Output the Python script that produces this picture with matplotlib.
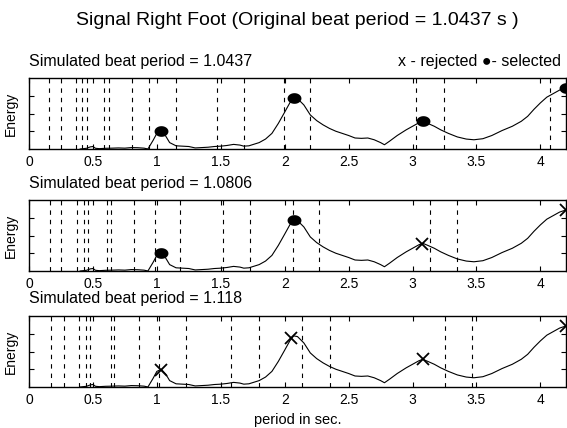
import matplotlib
matplotlib.use("Agg")
import matplotlib.pyplot as plt
from matplotlib.path import Path
import numpy as np

plt.rcParams["font.family"] = ["Liberation Sans", "DejaVu Sans"]

# energy curve (same signal in every panel)
period = [0.40, 0.45, 0.48, 0.50, 0.52, 0.55, 0.60, 0.65, 0.70, 0.75, 0.80, 0.85,
          0.90, 0.93, 0.97, 1.00, 1.035, 1.07, 1.10, 1.15, 1.20, 1.25, 1.30, 1.35,
          1.40, 1.45, 1.50, 1.55, 1.60, 1.65, 1.68, 1.72, 1.80, 1.85, 1.90, 1.95,
          2.00, 2.04, 2.07, 2.10, 2.15, 2.20, 2.25, 2.30, 2.35, 2.40, 2.45, 2.50,
          2.55, 2.60, 2.65, 2.70, 2.75, 2.78, 2.82, 2.88, 2.95, 3.00, 3.05, 3.08,
          3.12, 3.17, 3.22, 3.28, 3.35, 3.42, 3.48, 3.55, 3.62, 3.70, 3.78, 3.85,
          3.90, 3.95, 4.00, 4.05, 4.10, 4.15, 4.20]
energy = [0.00, 0.01, 0.03, 0.035, 0.01, 0.005, 0.01, 0.012, 0.015, 0.012, 0.02, 0.018,
          0.012, 0.0, 0.12, 0.22, 0.25, 0.18, 0.09, 0.045, 0.04, 0.035, 0.015, 0.02,
          0.025, 0.035, 0.04, 0.05, 0.065, 0.055, 0.04, 0.045, 0.09, 0.14, 0.22, 0.36,
          0.52, 0.65, 0.72, 0.71, 0.62, 0.48, 0.40, 0.34, 0.29, 0.25, 0.22, 0.19,
          0.155, 0.15, 0.155, 0.13, 0.09, 0.06, 0.11, 0.19, 0.27, 0.32, 0.37, 0.39,
          0.36, 0.32, 0.27, 0.22, 0.17, 0.14, 0.13, 0.145, 0.19, 0.26, 0.32, 0.39,
          0.46, 0.56, 0.65, 0.73, 0.78, 0.83, 0.86]

sim_periods = ["1.0437", "1.0806", "1.118"]

# dashed candidate lines per panel
dashes_1 = [0.159, 0.248, 0.366, 0.413, 0.452, 0.588, 0.622, 0.805, 0.941, 1.150,
            1.472, 1.681, 1.995, 2.196, 3.027, 3.242, 4.073]
dashes_2 = [0.165, 0.253, 0.375, 0.430, 0.460, 0.610, 0.642, 0.822, 0.983, 1.182,
            1.520, 1.725, 2.063, 2.265, 3.135, 3.350]
dashes_3 = [0.175, 0.272, 0.390, 0.445, 0.480, 0.638, 0.668, 0.864, 1.015, 1.230,
            1.580, 1.795, 2.139, 2.353, 3.255, 3.468]

# selected / rejected peaks per panel
sel_x = [[1.035, 2.07, 3.08, 4.20], [1.035, 2.07], []]
sel_y = [[0.25, 0.72, 0.39, 0.86], [0.25, 0.72], []]
rej_x = [[], [3.07, 4.20], [1.03, 2.05, 3.08, 4.20]]
rej_y = [[], [0.38, 0.86], [0.24, 0.69, 0.39, 0.86]]

xticks = [0, 0.5, 1, 1.5, 2, 2.5, 3, 3.5, 4]
xtick_labels = ["0", "0.5", "1", "1.5", "2", "2.5", "3", "3.5", "4"]

# flattened dot like the original plot's "selected" marker
t = np.linspace(0, 2 * np.pi, 40)
oval = Path(np.column_stack([1.3 * np.cos(t), np.sin(t)]), closed=True)

fig = plt.figure(figsize=(5.67, 4.28), dpi=100)
left, width, height = 29 / 567, 537 / 567, 71 / 428
bottoms = [1 - 149 / 428, 1 - 271 / 428, 1 - 387 / 428]
all_dashes = [dashes_1, dashes_2, dashes_3]

for i in range(3):
    ax = fig.add_axes([left, bottoms[i], width, height])
    for d in all_dashes[i]:
        ax.axvline(d, color="black", linestyle=(0, (4, 4.5)), linewidth=0.8)
    ax.plot(period, energy, color="black", linewidth=0.8)
    if sel_x[i]:
        ax.plot(sel_x[i], sel_y[i], linestyle="none", marker=oval, color="black",
                markersize=10, markeredgewidth=0)
    if rej_x[i]:
        ax.plot(rej_x[i], rej_y[i], "x", color="black", markersize=9,
                markeredgewidth=1.3)
    ax.set_xlim(0, 4.2)
    ax.set_ylim(0, 1)
    ax.set_xticks(xticks)
    ax.set_xticklabels(xtick_labels)
    ax.set_yticks([0.25, 0.5, 0.75])
    ax.set_yticklabels([])
    ax.tick_params(direction="in", top=True, right=True, length=3.5,
                   width=0.8, labelsize=10, pad=4)
    for s in ax.spines.values():
        s.set_linewidth(1.0)
    ax.set_ylabel("Energy", fontsize=10, labelpad=4)
    ax.set_title("Simulated beat period = " + sim_periods[i], loc="left",
                 fontsize=11.5, pad=9)
    if i == 0:
        ax.text(0.99, 1.0, "x - rejected \u25cf- selected", transform=ax.transAxes,
                ha="right", va="bottom", fontsize=11.5).set_y(1.13)

fig.text(0.525, 0.953, "Signal Right Foot (Original beat period = 1.0437 s )",
         ha="center", va="center", fontsize=14)
fig.text(0.525, 0.019, "period in sec.", ha="center", va="center", fontsize=10.5)

fig.savefig("out.png", dpi=100)
